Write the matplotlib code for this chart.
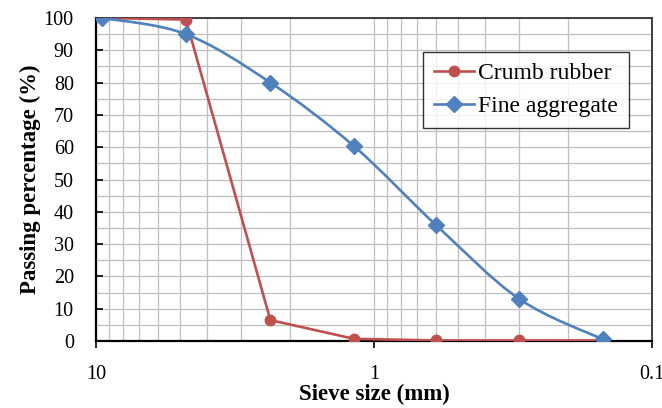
#!/usr/bin/env python3
"""Sieve analysis: crumb rubber vs fine aggregate grading curves."""
import matplotlib
matplotlib.use("Agg")
import matplotlib.pyplot as plt
import numpy as np
from matplotlib.path import Path
from matplotlib.patches import PathPatch
from matplotlib.ticker import FixedLocator, LogLocator, MultipleLocator, NullFormatter

sieve_mm = [9.5, 4.75, 2.36, 1.18, 0.6, 0.3, 0.15]
crumb_rubber = [100, 99.5, 6.5, 0.7, 0.2, 0.2, 0.2]
fine_aggregate = [100, 95, 80, 60.3, 36, 13, 0.5]
x_ticks = [10, 1, 0.1]
x_tick_labels = ["10", "1", "0.1"]

RED = "#C0504D"
BLUE = "#4F81BD"

plt.rcParams["font.family"] = ["Liberation Serif", "DejaVu Serif"]


def smooth_path(xs, ys):
    # Excel-like smoothed line: cubic Bezier through points, built in log-x space
    lx = np.log10(xs)
    ys = np.asarray(ys, dtype=float)
    n = len(lx)
    verts = [(xs[0], ys[0])]
    codes = [Path.MOVETO]
    for i in range(n - 1):
        p0 = (lx[i - 1], ys[i - 1]) if i > 0 else (lx[i], ys[i])
        p1 = (lx[i], ys[i])
        p2 = (lx[i + 1], ys[i + 1])
        p3 = (lx[i + 2], ys[i + 2]) if i + 2 < n else p2
        c1 = (p1[0] + (p2[0] - p0[0]) / 6, p1[1] + (p2[1] - p0[1]) / 6)
        c2 = (p2[0] - (p3[0] - p1[0]) / 6, p2[1] - (p3[1] - p1[1]) / 6)
        for c in (c1, c2, p2):
            verts.append((10 ** c[0], c[1]))
            codes.append(Path.CURVE4)
    return Path(verts, codes)


fig = plt.figure(figsize=(6.62, 4.08), dpi=100)
ax = fig.add_axes([0.145, 0.164, 0.84, 0.792])
ax.set_xscale("log")
ax.set_xlim(10, 0.1)
ax.set_ylim(0, 100)

ax.plot(sieve_mm, crumb_rubber, color=RED, lw=1.9, marker="o", ms=7.5,
        label="Crumb rubber", zorder=3)
ax.add_patch(PathPatch(smooth_path(sieve_mm, fine_aggregate), facecolor="none",
                       edgecolor=BLUE, lw=1.9, zorder=4))
ax.plot(sieve_mm, fine_aggregate, color=BLUE, lw=1.9, ls="none", marker="D", ms=8.5,
        zorder=5)
ax.plot([], [], color=BLUE, lw=1.9, marker="D", ms=8.5, label="Fine aggregate")

ax.xaxis.set_major_locator(FixedLocator(x_ticks))
ax.set_xticklabels(x_tick_labels)
ax.xaxis.set_minor_locator(LogLocator(base=10, subs=np.arange(2, 10)))
ax.xaxis.set_minor_formatter(NullFormatter())
ax.yaxis.set_major_locator(MultipleLocator(10))
ax.yaxis.set_minor_locator(MultipleLocator(5))

ax.grid(True, which="both", color="#BFBFBF", lw=0.9)
ax.set_axisbelow(True)
ax.tick_params(axis="x", which="major", direction="out", length=5, width=1.2,
               pad=12, labelsize=14.5)
ax.tick_params(axis="x", which="minor", length=0)
ax.tick_params(axis="y", which="major", direction="in", length=5, width=1.2,
               pad=16, labelsize=14.5)
ax.tick_params(axis="y", which="minor", length=0)

for side in ("left", "bottom"):
    ax.spines[side].set_linewidth(1.6)
    ax.spines[side].set_color("black")
for side in ("top", "right"):
    ax.spines[side].set_linewidth(1.3)
    ax.spines[side].set_color("#333333")

ax.set_xlabel("Sieve size (mm)", fontsize=16.5, fontweight="bold", labelpad=0)
ax.set_ylabel("Passing percentage (%)", fontsize=16.5, fontweight="bold", labelpad=2)

leg = ax.legend(loc="upper left", bbox_to_anchor=(0.588, 0.895), borderaxespad=0,
                fontsize=17, frameon=True, fancybox=False, handlelength=1.7,
                handletextpad=0.2, borderpad=0.45, labelspacing=0.5)
leg.get_frame().set_edgecolor("black")
leg.get_frame().set_linewidth(1.0)

fig.savefig("out.png", dpi=100)
